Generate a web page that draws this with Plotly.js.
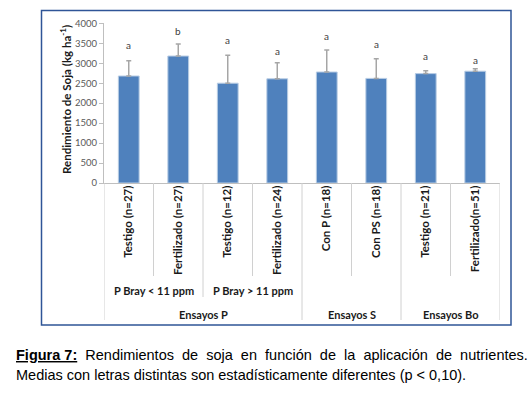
<!DOCTYPE html>
<html>
<head>
<meta charset="utf-8">
<script src="https://cdn.plot.ly/plotly-3.0.1.min.js"></script>
<style>html,body{margin:0;padding:0;background:#fff;}#chart{width:532px;height:396px;}</style>
</head>
<body>
<div id="chart"></div>
<script>
const categories = ['Testigo (n=27)','Fertilizado (n=27)','Testigo (n=12)','Fertilizado (n=24)','Con P (n=18)','Con PS (n=18)','Testigo (n=21)','Fertilizado(n=51)'];
const yieldMeans = [2680, 3180, 2500, 2610, 2780, 2620, 2740, 2800];
const errorUp = [380, 300, 700, 400, 550, 490, 70, 60];
const letters = ['a','b','a','a','a','a','a','a'];
const letterLevels = [3455, 3807, 3581, 3312, 3681, 3488, 3179, 3079];
const subgroupLabels = ['P Bray < 11 ppm', 'P Bray > 11 ppm'];
const subgroupSpans = [[0, 1], [2, 3]];
const groupLabels = ['Ensayos P', 'Ensayos S', 'Ensayos Bo'];
const groupSpans = [[0, 3], [4, 5], [6, 7]];
const yTickValues = [0, 500, 1000, 1500, 2000, 2500, 3000, 3500, 4000];

const W = 532, H = 396;
const px = x => x / W;
const py = y => 1 - y / H;
const idx = categories.map((c, i) => i);

const trace = {
  type: 'bar',
  x: idx,
  y: yieldMeans,
  width: 0.42,
  marker: {color: '#4f81bd', line: {color: '#b8cce4', width: 1}},
  error_y: {type: 'data', symmetric: false, array: errorUp, arrayminus: errorUp.map(() => 0),
            color: '#a6a6a6', thickness: 1.5, width: 2.5},
  hoverinfo: 'none'
};

const axisY = py(183);
const shapes = [];
const annotations = [];
const sepColor = '#d0d0d0';
function sep(xv, bottomPx) {
  shapes.push({type: 'line', xref: 'x', yref: 'paper', x0: xv, x1: xv, y0: axisY, y1: py(bottomPx),
               line: {color: sepColor, width: 1}});
}
const outer = new Set([-0.5]);
groupSpans.forEach(s => outer.add(s[1] + 0.5));
const mid = new Set();
subgroupSpans.forEach(s => { if (!outer.has(s[1] + 0.5)) mid.add(s[1] + 0.5); });
for (let b = -0.5; b <= categories.length - 0.5; b += 1) {
  if (outer.has(b)) sep(b, 320);
  else if (mid.has(b)) sep(b, 297);
  else sep(b, 276);
}
shapes.push({type: 'rect', xref: 'paper', yref: 'paper', x0: px(41.5), x1: px(511), y0: py(325), y1: py(10.5),
             line: {color: '#2f5597', width: 1.5}, fillcolor: 'rgba(0,0,0,0)'});

const groupFont = {family: 'Lato, sans-serif', size: 11, color: '#1a1a1a', weight: 'bold'};
const tickFont = {family: 'Lato, sans-serif', size: 11.5, color: '#1a1a1a', weight: 'bold'};
subgroupLabels.forEach((t, i) => {
  annotations.push({xref: 'x', yref: 'paper', x: (subgroupSpans[i][0] + subgroupSpans[i][1]) / 2, y: py(290),
    text: t.replace('<', '&lt;').replace('>', '&gt;'), showarrow: false, font: groupFont, xanchor: 'center', yanchor: 'middle'});
});
groupLabels.forEach((t, i) => {
  annotations.push({xref: 'x', yref: 'paper', x: (groupSpans[i][0] + groupSpans[i][1]) / 2, y: py(314),
    text: t, showarrow: false, font: groupFont, xanchor: 'center', yanchor: 'middle'});
});
letters.forEach((t, i) => {
  annotations.push({xref: 'x', yref: 'y', x: idx[i], y: letterLevels[i], text: t, showarrow: false,
    font: {family: 'Lato, sans-serif', size: 10, color: '#404040'}, xanchor: 'center', yanchor: 'middle'});
});
annotations.push({xref: 'paper', yref: 'paper', x: px(65), y: py(100), textangle: -90,
  text: '<b>Rendimiento de Soja (kg ha<sup>-1</sup>)</b>', showarrow: false,
  font: {family: 'Lato, sans-serif', size: 11.5, color: '#1a1a1a'}, xanchor: 'center', yanchor: 'middle'});
const nb = '\u00A0';
const line1 = ['<b><span style="text-decoration:underline">Figura 7:</span></b>', 'Rendimientos', 'de', 'soja', 'en', 'función', 'de', 'la', 'aplicación', 'de', 'nutrientes.'];
const capFont = {family: 'Liberation Sans, Arial, sans-serif', size: 14.5, color: '#000'};
annotations.push({xref: 'paper', yref: 'paper', x: px(14), y: py(355), xanchor: 'left', yanchor: 'middle',
  text: line1.join(' ' + nb), showarrow: false, font: capFont});
annotations.push({xref: 'paper', yref: 'paper', x: px(14), y: py(375), xanchor: 'left', yanchor: 'middle',
  text: 'Medias con letras distintas son estadísticamente diferentes (p &lt; 0,10).', showarrow: false, font: capFont});

const layout = {
  width: W, height: H,
  margin: {l: 0, r: 0, t: 0, b: 0},
  paper_bgcolor: '#fff', plot_bgcolor: '#fff',
  showlegend: false,
  xaxis: {domain: [px(104), px(500)], range: [-0.5, categories.length - 0.5], tickvals: idx, ticktext: categories,
          tickangle: -90, ticks: '', ticklabelstandoff: -3, showgrid: false, zeroline: false, showline: true,
          linecolor: '#bfbfbf', linewidth: 1, tickfont: tickFont, fixedrange: true},
  yaxis: {domain: [py(183), py(23.3)], range: [0, 4000], tickvals: yTickValues, ticks: 'outside', ticklen: 4,
          tickcolor: '#bfbfbf', showgrid: false, zeroline: false, showline: true, linecolor: '#bfbfbf', linewidth: 1,
          tickfont: {family: 'Lato, sans-serif', size: 9.5, color: '#595959'}, fixedrange: true},
  shapes: shapes,
  annotations: annotations
};
Plotly.newPlot('chart', [trace], layout, {displayModeBar: false, staticPlot: true});
</script>
</body>
</html>
